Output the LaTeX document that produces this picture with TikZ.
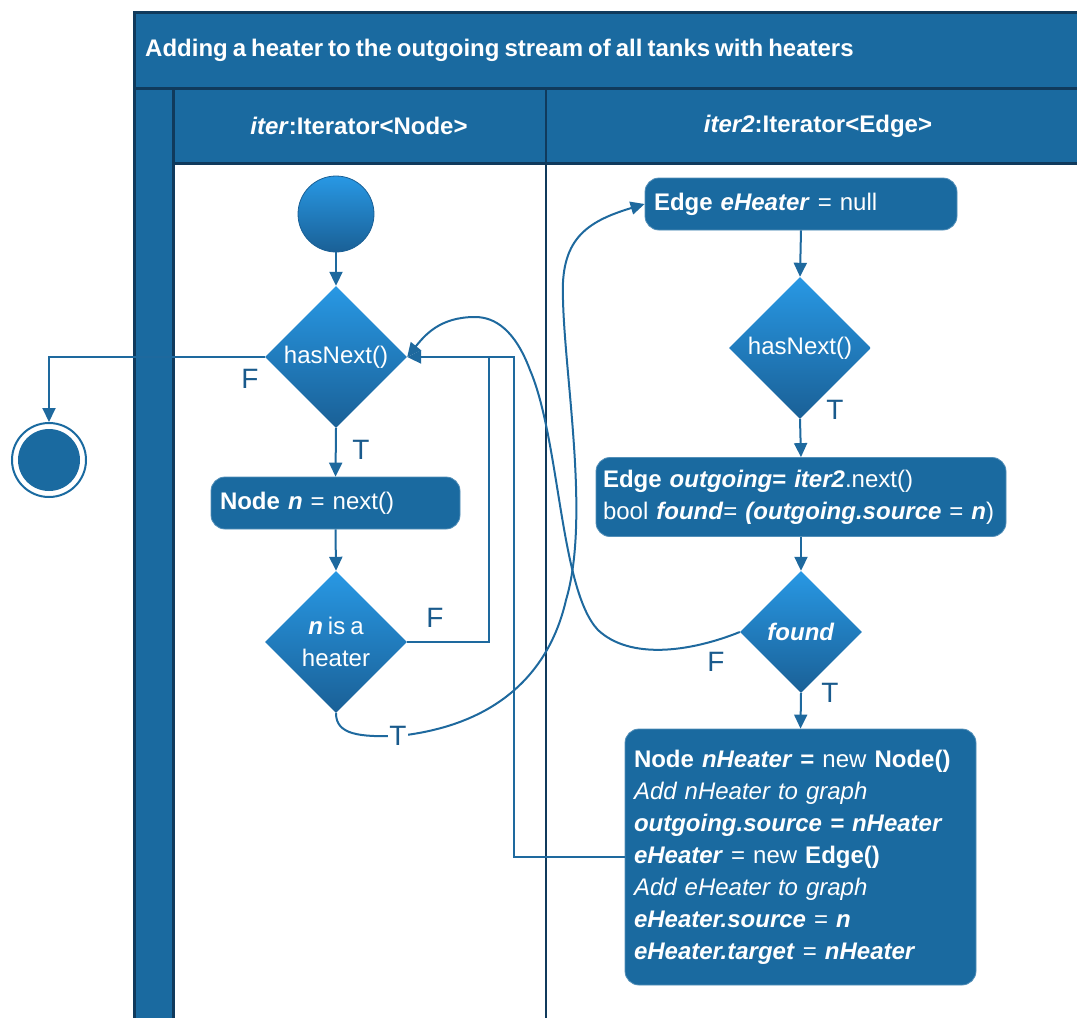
\documentclass[tikz,border=0pt]{standalone}
\usepackage{fontspec}
\setmainfont{Liberation Sans}[WordSpace=0.75]
\usetikzlibrary{shapes.geometric,arrows.meta}

\definecolor{laneblue}{RGB}{26,106,160}
\definecolor{lanedark}{RGB}{16,58,92}
\definecolor{flowline}{RGB}{30,105,158}
\definecolor{gradtop}{RGB}{40,152,228}
\definecolor{gradbot}{RGB}{26,96,150}
\definecolor{guardtext}{RGB}{25,90,140}

\newcommand\bitxt[1]{\textbf{\textit{#1}}}

\begin{document}
\begin{tikzpicture}[x=1pt,y=-1pt,
  txt/.style={font=\fontsize{24}{32}\selectfont},
  action/.style={txt, draw=laneblue!75!white, line width=0.8pt, fill=laneblue,
    rounded corners=14pt, text=white, align=left, inner xsep=9pt, inner ysep=0pt},
  decision/.style={txt, diamond, shape aspect=1, draw=none, top color=gradtop,
    bottom color=gradbot, minimum width=142pt, minimum height=142pt,
    inner sep=0pt, text=white, align=center},
  flow/.style={draw=flowline, line width=2pt, -{Triangle[length=14pt,width=13pt]}},
  plain/.style={draw=flowline, line width=2pt},
  guard/.style={text=guardtext, font=\fontsize{28}{28}\selectfont, inner sep=1pt},
  laneline/.style={draw=lanedark, line width=3pt},
  lanehead/.style={text=white, inner sep=0pt, font=\bfseries\fontsize{24}{28}\selectfont}
]
\useasboundingbox (0,0) rectangle (1077,1018);
\clip (0,0) rectangle (1077,1018);

% swimlane frame
\fill[laneblue] (134,12) rectangle (1090,88);
\fill[laneblue] (134,88) rectangle (173,1030);
\fill[laneblue] (173,88) rectangle (1090,163);
\draw[laneline] (1090,12) -- (134,12) -- (134,1030);
\draw[laneline] (134,88) -- (1090,88);
\draw[laneline] (173,88) -- (173,1030);
\draw[laneline] (173,163) -- (1090,163);
\draw[draw=lanedark, line width=2.5pt] (546,88) -- (546,1030);

\node[lanehead, anchor=west] (title) at (145,50)
  {Adding a heater to the outgoing stream of all tanks with heaters};
\node[lanehead] (laneA) at (359,126) {\textit{iter}:Iterator<Node>};
\node[lanehead] (laneB) at (818,126) {\textit{iter2}:Iterator<Edge>};

% first lane: outer loop over the nodes
\node[circle, minimum size=76pt, inner sep=0pt, top color=gradtop, bottom color=gradbot,
  draw=gradbot, line width=0.8pt] (start) at (336,214) {};
\node[decision] (hn1) at (336,357) {hasNext()};
\node[circle, minimum size=74pt, inner sep=0pt, draw=laneblue, line width=2pt,
  fill=white] (final) at (49,460) {};
\fill[laneblue] (final.center) circle[radius=31pt];
\node[action, minimum width=249pt, minimum height=52pt, text width=231pt]
  (nodeN) at (335.5,503) {\textbf{Node} \bitxt{n} = next()};
\node[decision] (isheater) at (336,642) {\bitxt{n} is a\\heater};

% second lane: inner loop over the edges
\node[action, minimum width=312pt, minimum height=52pt, text width=294pt]
  (enull) at (801,204) {\textbf{Edge} \bitxt{eHeater} = null};
\node[decision] (hn2) at (800,348) {hasNext()};
\node[action, inner xsep=7pt, minimum width=410pt, minimum height=79pt, text width=396pt]
  (outgoing) at (801,497)
  {\mbox{\textbf{Edge} \bitxt{outgoing}\textbf{=} \bitxt{iter2}.next()}\\
   \mbox{bool \bitxt{found}= \bitxt{(outgoing.source} = \bitxt{n})}};
\node[decision, minimum width=122pt, minimum height=122pt] (found) at (801,632)
  {\bitxt{found}};
\node[action, minimum width=351pt, minimum height=256pt, text width=333pt]
  (insert) at (800.5,857)
  {\textbf{Node} \bitxt{nHeater} \textbf{=} new \textbf{Node()}\\
   \textit{Add nHeater to graph}\\
   \bitxt{outgoing.source = nHeater}\\
   \bitxt{eHeater} = new \textbf{Edge()}\\
   \textit{Add eHeater to graph}\\
   \bitxt{eHeater.source} = \bitxt{n}\\
   \bitxt{eHeater.target} = \bitxt{nHeater}};

% junction points of the loop-back lines
\coordinate (jF) at (489,357);
\coordinate (jB) at (514,357);

% connectors
\draw[flow] (start) -- (hn1);
\draw[flow] (hn1.west) -| (final.north);
\draw[flow] (hn1.south) -- (nodeN.north);
\draw[flow] (nodeN.south) -- (isheater.north);
\draw[plain] (isheater.east) -| (jF);
\draw[flow] (insert.west) -| (jB) -- (hn1.east);
\draw[flow] (enull.south) -- (hn2.north);
\draw[flow] (hn2.south) -- (outgoing.north);
\draw[flow] (outgoing.south) -- (found.north);
\draw[flow] (found.south) -- (insert.north);

\draw[flow] (isheater.south) .. controls (336,735) and (360,737) .. (398,736)
  node[guard, fill=white] (tB) {T}
  .. controls (500,725) and (550,670) .. (566,600)
  .. controls (590,520) and (565,380) .. (563,300)
  .. controls (560,240) and (585,222) .. (enull.west);

\draw[flow] (found.west) .. controls (690,652) and (630,660) .. (598,630)
  .. controls (560,590) and (560,440) .. (530,370)
  .. controls (515,330) and (495,317) .. (475,317)
  .. controls (440,317) and (425,335) .. (hn1.east);

% guard labels
\node[guard] (fA) at (250,379) {F};
\node[guard] (tA) at (361,450) {T};
\node[guard] (fB) at (435,618) {F};
\node[guard] (tC) at (835,410) {T};
\node[guard] (fD) at (716,662) {F};
\node[guard] (tD) at (830,693) {T};
\end{tikzpicture}
\end{document}
